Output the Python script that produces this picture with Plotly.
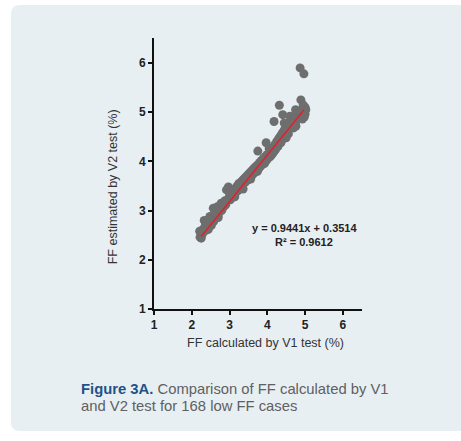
import plotly.graph_objects as go

W, H = 461, 441

# FF calculated by V1 (x) and estimated by V2 (y)
ff_v1 = [2.22, 2.25, 2.21, 2.28, 2.30, 2.33, 2.36, 2.38, 2.40, 2.42, 2.45, 2.47, 2.50, 2.52,
         2.55, 2.57, 2.58, 2.60, 2.62, 2.65, 2.68, 2.70, 2.72, 2.75, 2.78, 2.80, 2.82, 2.85,
         2.88, 2.90, 2.92, 2.95, 2.97, 3.00, 3.02, 3.05, 3.08, 3.10, 3.12, 3.15, 3.18, 3.20,
         3.22, 3.25, 3.28, 3.30, 3.32, 3.35, 3.38, 3.40, 3.42, 3.45, 3.48, 3.50, 3.52, 3.55,
         3.58, 3.60, 3.62, 3.65, 3.68, 3.70, 3.72, 3.75, 3.76, 3.78, 3.80, 3.82, 3.85, 3.88,
         3.90, 3.92, 3.95, 3.97, 3.98, 4.00, 4.02, 4.05, 4.06, 4.08, 4.10, 4.12, 4.15, 4.18,
         4.18, 4.20, 4.22, 4.25, 4.28, 4.30, 4.32, 4.32, 4.35, 4.38, 4.40, 4.41, 4.42, 4.45,
         4.45, 4.48, 4.50, 4.50, 4.52, 4.55, 4.58, 4.60, 4.60, 4.62, 4.65, 4.68, 4.70, 4.70,
         4.72, 4.75, 4.75, 4.78, 4.80, 4.82, 4.85, 4.87, 4.89, 4.88, 4.90, 4.92, 4.95, 4.95,
         4.97, 4.97, 5.00, 5.00, 4.98, 5.02, 2.26, 2.35, 2.48, 2.63, 2.79, 2.60, 3.14, 3.36,
         3.56, 3.74, 3.93, 4.14, 4.36, 4.56, 4.76, 4.93, 2.44, 2.70, 3.06, 3.46, 3.86, 4.26]
ff_v2 = [2.46, 2.44, 2.58, 2.52, 2.62, 2.80, 2.70, 2.60, 2.76, 2.66, 2.82, 2.72, 2.80, 2.70,
         2.85, 3.05, 2.78, 2.92, 2.84, 2.95, 3.08, 2.90, 2.98, 3.10, 3.15, 3.02, 3.14, 3.08,
         3.20, 3.12, 3.42, 3.22, 3.48, 3.30, 3.22, 3.38, 3.30, 3.42, 3.34, 3.45, 3.38, 3.50,
         3.40, 3.55, 3.46, 3.58, 3.50, 3.62, 3.56, 3.66, 3.58, 3.70, 3.62, 3.74, 3.66, 3.78,
         3.70, 3.82, 3.74, 3.86, 3.78, 3.90, 3.82, 4.21, 3.94, 3.86, 3.98, 3.90, 4.02, 3.94,
         4.06, 3.98, 4.10, 4.38, 4.02, 4.14, 4.06, 4.26, 4.18, 4.10, 4.24, 4.14, 4.28, 4.20,
         4.81, 4.34, 4.24, 4.40, 4.30, 4.46, 4.36, 5.14, 4.52, 4.42, 4.58, 4.95, 4.48, 4.64,
         4.78, 4.54, 4.70, 4.48, 4.60, 4.74, 4.66, 4.80, 4.92, 4.70, 4.84, 4.76, 4.88, 4.68,
         4.80, 4.92, 5.05, 4.84, 4.96, 4.88, 5.00, 5.90, 5.25, 4.92, 5.04, 4.96, 5.08, 5.15,
         5.78, 5.00, 5.10, 4.96, 4.90, 5.05, 2.56, 2.64, 2.88, 2.96, 3.00, 3.02, 3.28, 3.44,
         3.64, 3.80, 3.96, 4.16, 4.38, 4.56, 4.72, 4.86, 2.62, 2.86, 3.26, 3.64, 4.00, 4.40]

fit_x = [2.25, 4.97]
fit_y = [2.475, 5.044]
equation_lines = ["y = 0.9441x + 0.3514", "R² = 0.9612"]
tick_vals = [1, 2, 3, 4, 5, 6]
x_title = "FF calculated by V1 test (%)"
y_title = "FF estimated by V2 test (%)"
caption_bold = "Figure 3A."
caption_1 = " Comparison of FF calculated by V1"
caption_2 = "and V2 test for 168 low FF cases"


def fx(px):
    return px / W


def fy(py):
    return 1 - py / H


fig = go.Figure()
fig.add_trace(go.Scatter(x=ff_v1, y=ff_v2, mode="markers",
                         marker=dict(size=9, color="#6e6e6e", line=dict(width=0)),
                         showlegend=False, hoverinfo="skip"))
fig.add_trace(go.Scatter(x=fit_x, y=fit_y, mode="lines",
                         line=dict(color="#e3202a", width=1.5),
                         showlegend=False, hoverinfo="skip"))

axis_common = dict(range=[1, 6.5], tickvals=tick_vals, showgrid=False, zeroline=False,
                   showline=True, linecolor="#111", linewidth=2, ticks="outside",
                   ticklen=4, tickwidth=2, tickcolor="#111",
                   tickfont=dict(family="Liberation Sans", size=12, color="#222",
                                 weight="bold"))

fig.update_layout(
    width=W, height=H,
    margin=dict(l=0, r=0, t=0, b=0),
    paper_bgcolor="white", plot_bgcolor="rgba(0,0,0,0)",
    xaxis=dict(domain=[fx(152), fx(361)], **axis_common),
    yaxis=dict(domain=[fy(314), fy(39)], **axis_common),
    font=dict(family="Liberation Sans"),
)

# panel background (rounded rectangle)
x0, x1, y0, y1 = fx(8), fx(475), fy(438), fy(5)
rx, ry = 9 / W, 9 / H
path = (f"M {x0+rx},{y1} L {x1-rx},{y1} Q {x1},{y1} {x1},{y1-ry} L {x1},{y0+ry} "
        f"Q {x1},{y0} {x1-rx},{y0} L {x0+rx},{y0} Q {x0},{y0} {x0},{y0+ry} "
        f"L {x0},{y1-ry} Q {x0},{y1} {x0+rx},{y1} Z")
fig.add_shape(type="path", path=path, xref="paper", yref="paper",
              fillcolor="#e8eff3", line=dict(width=0), layer="below")

ann = []
ann.append(dict(x=fx(264), y=fy(349), text=x_title, showarrow=False, xref="paper", yref="paper",
                font=dict(size=12.5, color="#333"), xanchor="center", yanchor="middle"))
ann.append(dict(x=fx(111), y=fy(190), text=y_title, showarrow=False, xref="paper", yref="paper",
                textangle=-90, font=dict(size=12.5, color="#333"), xanchor="center", yanchor="middle"))
ann.append(dict(x=fx(303), y=fy(232), text=equation_lines[0], showarrow=False, xref="paper",
                yref="paper", font=dict(size=11, color="#222", weight="bold"),
                xanchor="center", yanchor="middle"))
ann.append(dict(x=fx(303), y=fy(246), text=equation_lines[1], showarrow=False, xref="paper",
                yref="paper", font=dict(size=11, color="#222", weight="bold"),
                xanchor="center", yanchor="middle"))
ann.append(dict(x=fx(77), y=fy(395), text=f"<span style='color:#1f5288'><b>{caption_bold}</b></span>{caption_1}",
                showarrow=False, xref="paper", yref="paper",
                font=dict(size=14.8, color="#606060"), xanchor="left", yanchor="middle"))
ann.append(dict(x=fx(77), y=fy(413), text=caption_2, showarrow=False, xref="paper", yref="paper",
                font=dict(size=14.8, color="#606060"), xanchor="left", yanchor="middle"))
fig.update_layout(annotations=ann)

fig.write_html("out.html")
